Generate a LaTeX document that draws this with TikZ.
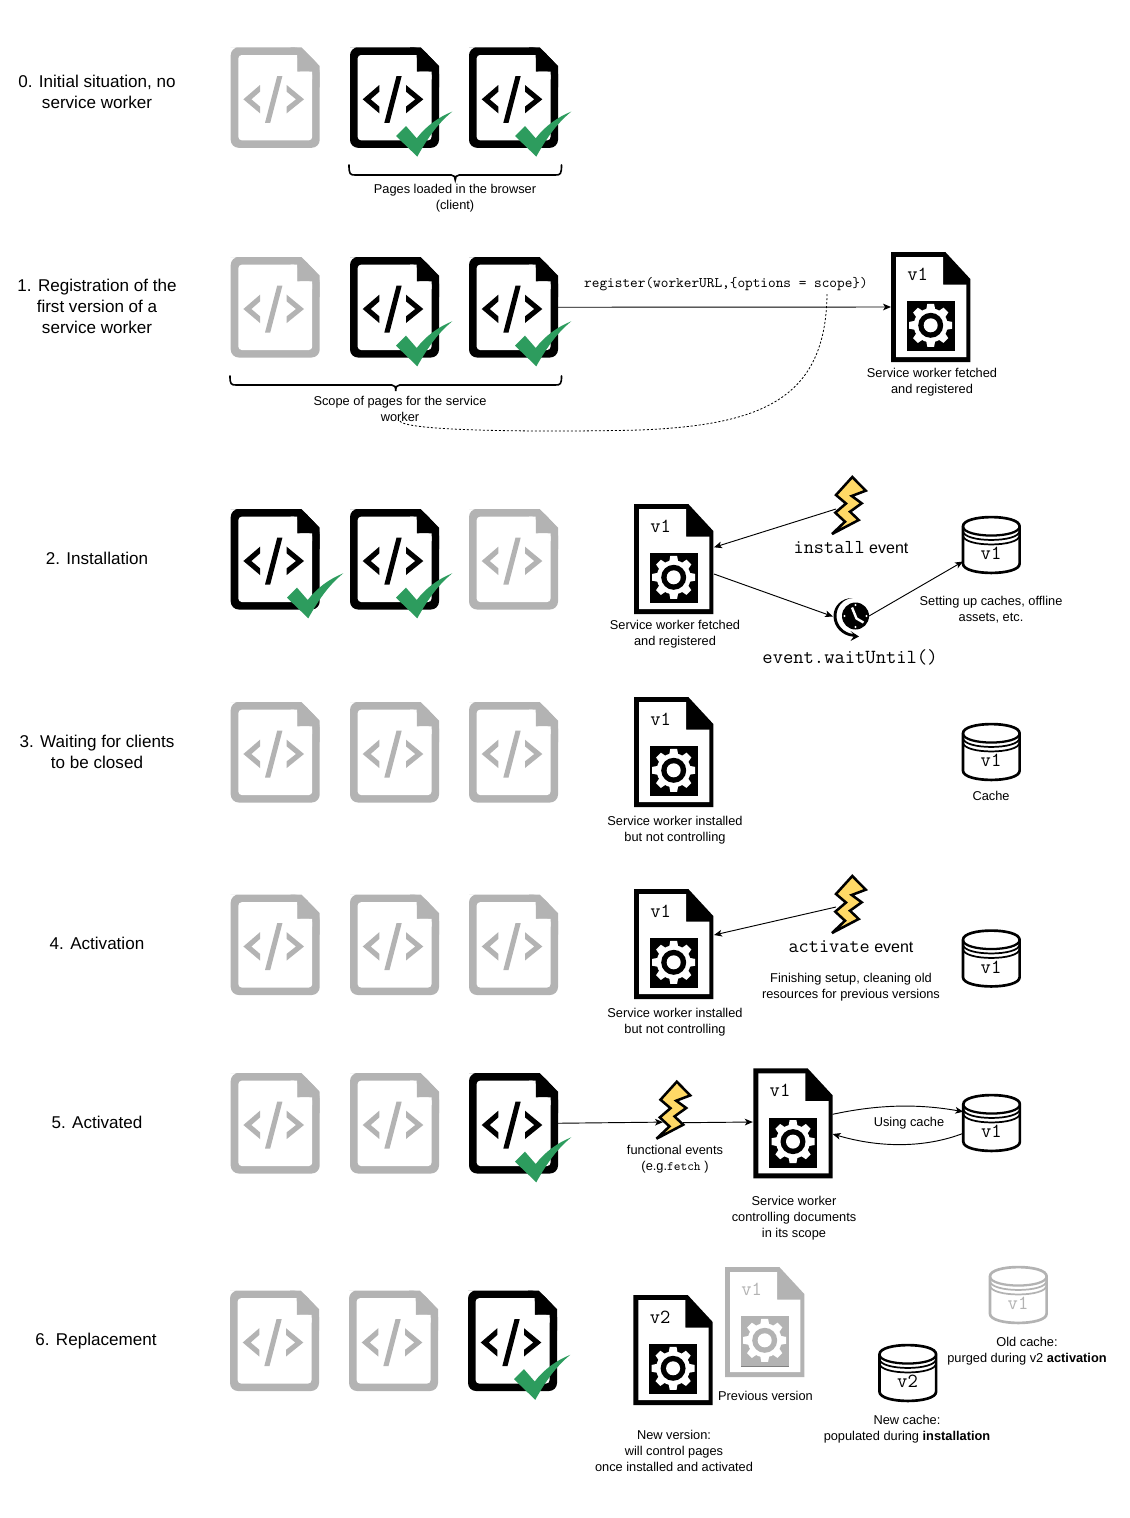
\documentclass[tikz,border=0pt]{standalone}
\usepackage{fontspec}
\setmainfont{Liberation Sans}
\usetikzlibrary{arrows.meta,calc}
\definecolor{gry}{HTML}{B3B3B3}
\definecolor{grn}{HTML}{2D9C5E}
\definecolor{bolty}{HTML}{FFD966}
\tikzset{
  box/.style={inner sep=0pt,outer sep=0pt,draw=none},
  big/.style={inner sep=0pt,align=center,font=\fontsize{12.8}{15.75}\selectfont},
  lab/.style={inner sep=0pt,align=center,yshift=-0.6pt,font=\fontsize{9.6}{12}\selectfont},
  evt/.style={inner sep=0pt,align=center,font=\fontsize{12}{15}\selectfont},
  con/.style={line width=0.7pt,-{Stealth[length=6pt,width=5pt,inset=1.6pt]}},
  brc/.style={line width=1.2pt,line cap=round},
  vtxt/.style={inner sep=0pt,font=\ttfamily\fontsize{15}{15}\selectfont}
}
% page icon: name, x, y, colour
\newcommand{\pageicon}[4]{%
  \node[box,minimum width=89*0.75pt,minimum height=100.5*0.75pt] (#1) at (#2+44.5,#3+50.25) {};
  \begin{scope}[shift={(#2,#3)}]
    \fill[#4,rounded corners=6pt] (8,0) -- (70.7,0) -- (89,18.7) -- (89,100.5) -- (0,100.5) -- (0,0) -- cycle;
    \fill[#4] (60,0) -- (70.7,0) -- (89,18.7) -- (89,40) -- (60,40) -- cycle;
    \fill[white,rounded corners=2.5pt] (7.7,7.7) -- (66.5,7.7) -- (66.5,30) -- (66.5,24.4) -- (81.5,24.4) -- (81.5,93) -- (7.7,93) -- cycle;
    \fill[white] (60,7.7) -- (66.5,7.7) -- (66.5,24.4) -- (81.5,24.4) -- (81.5,32) -- (60,32) -- cycle;
    \fill[#4] (12.7,52) -- (29.3,37.7) -- (29.3,44.4) -- (20.7,52) -- (29.3,59.3) -- (29.3,66) -- cycle;
    \fill[#4] (73.3,52) -- (56,37.7) -- (56,44.4) -- (65.3,52) -- (56,59.3) -- (56,66) -- cycle;
    \fill[#4] (46.5,28.7) -- (51.7,28.7) -- (39.5,75.6) -- (34.3,75.6) -- cycle;
  \end{scope}}
% green check mark
\newcommand{\tickmark}[2]{%
  \fill[grn,shift={(#1,#2)}] (46,88.7) -- (67.3,109.3) .. controls (78,90) and (88,76) .. (102.3,64.3)
    .. controls (88,70) and (76,79) .. (66.7,91) -- (56,78.7) -- cycle;}
% service worker icon: name, x, y, colour, version
\newcommand{\swicon}[5]{%
  \node[box,minimum width=79.3*0.75pt,minimum height=110*0.75pt] (#1) at (#2+39.65,#3+55) {};
  \begin{scope}[shift={(#2,#3)}]
    \fill[#4] (0,0) -- (54.3,0) -- (79.3,27) -- (79.3,110) -- (0,110) -- cycle;
    \fill[white] (5,5) -- (52,5) -- (52,32.7) -- (75.3,32.7) -- (75.3,105) -- (5,105) -- cycle;
    \fill[#4] (16,49.3) rectangle (63.7,99.3);
    \begin{scope}[shift={(39.7,73.3)}]
      \foreach \a in {0,45,...,315}{\fill[white,rotate=\a] (-3.4,-21.5) -- (3.4,-21.5) -- (4.8,-14) -- (-4.8,-14) -- cycle;}
      \fill[white] (0,0) circle[radius=17*0.75pt];
      \fill[#4] (0,0) circle[radius=12.5*0.75pt];
      \fill[white] (0,0) circle[radius=7*0.75pt];
    \end{scope}
  \end{scope}
  \node[vtxt,text=#4] (#1-ver) at (#2+26.7,#3+22.2) {#5};}
% cache cylinder: name, x, y, colour, version
\newcommand{\cacheicon}[5]{%
  \node[box,minimum width=56.6*0.75pt,minimum height=56*0.75pt] (#1) at (#2+28.3,#3+28) {};
  \begin{scope}[shift={(#2,#3)}]
    \draw[#4,line width=2pt,fill=white] (0,9.3) -- (0,46.7) .. controls (0,59) and (56.6,59) .. (56.6,46.7) -- (56.6,9.3)
       .. controls (56.6,-3) and (0,-3) .. (0,9.3) -- cycle;
    \draw[#4,line width=1.7pt] (0,9.3) .. controls (0,21.6) and (56.6,21.6) .. (56.6,9.3);
    \draw[#4,line width=1.3pt] (0,13.8) .. controls (0,26) and (56.6,26) .. (56.6,13.8);
    \draw[#4,line width=1.3pt] (0,18.3) .. controls (0,30.5) and (56.6,30.5) .. (56.6,18.3);
  \end{scope}
  \node[vtxt,text=#4] (#1-ver) at (#2+28,#3+36.7) {#5};}
% lightning bolt
\newcommand{\bolticon}[3]{%
  \node[box,minimum width=37*0.75pt,minimum height=60*0.75pt] (#1) at (#2+18.5,#3+30) {};
  \draw[shift={(#2,#3)},fill=bolty,line width=1.9pt,line join=miter,miter limit=6]
    (22.3,1) -- (6,19) -- (16,27.5) -- (5.3,36.7) -- (15,45.7) -- (2,58)
    -- (28.7,44) -- (20,35.7) -- (31.7,27.3) -- (21.7,20) -- (35.7,14.7) -- cycle;}
% brace: x-left, x-right, y-top, y-bar, y-tip
\newcommand{\bracepath}[5]{%
  \draw[brc] (#1,#3) .. controls (#1,#4-1) and (#1+1,#4) .. (#1+6,#4)
     -- ({(#1+#2)/2-4},#4) .. controls ({(#1+#2)/2-1},#4) and ({(#1+#2)/2},#4+2) .. ({(#1+#2)/2},#5)
     .. controls ({(#1+#2)/2},#4+2) and ({(#1+#2)/2+1},#4) .. ({(#1+#2)/2+4},#4)
     -- (#2-6,#4) .. controls (#2-1,#4) and (#2,#4-1) .. (#2,#3);}
\begin{document}
\begin{tikzpicture}[x=0.75pt,y=-0.75pt]
\useasboundingbox (0,0) rectangle (1130,1518);
\fill[white] (0,0) rectangle (1130,1518);

% row labels
\node[big] (r0) at (97,91.5) {0. Initial situation, no\\service worker};
\node[big] (r1) at (97,306) {1. Registration of the\\first version of a\\service worker};
\node[big] (r2) at (97,558) {2. Installation};
\node[big] (r3) at (97,751.5) {3. Waiting for clients\\to be closed};
\node[big] (r4) at (97,943) {4. Activation};
\node[big] (r5) at (97,1122) {5. Activated};
\node[big] (r6) at (96,1341) {6. Replacement};

% row 0
\pageicon{p01}{230.7}{47.3}{gry}
\pageicon{p02}{350}{47.3}{black}\tickmark{350}{47.3}
\pageicon{p03}{469}{47.3}{black}\tickmark{469}{47.3}
\bracepath{349}{561.5}{165}{175}{180}
\node[lab] (t0) at (455,197) {Pages loaded in the browser\\(client)};

% row 1
\pageicon{p11}{230.7}{257}{gry}
\pageicon{p12}{350}{257}{black}\tickmark{350}{257}
\pageicon{p13}{469}{257}{black}\tickmark{469}{257}
\bracepath{230}{561.5}{376}{385}{391}
\node[lab] (t1) at (400,408) {Scope of pages for the service\\worker};
\swicon{sw1}{891}{252}{black}{v1}
\node[lab] (t1b) at (932,381) {Service worker fetched\\and registered};
\node[inner sep=0pt,font=\ttfamily\fontsize{10.95}{12}\selectfont] (reg) at (726,284.5) {register(workerURL,\{options = scope\})};
\coordinate (scopeword) at (827,294);
\coordinate (workerword) at (400,421);
\draw[con] (p13.east) -- (sw1.west);
\draw[line width=0.6pt,dash pattern=on 1.6pt off 1.4pt] (workerword) .. controls (405,432) and (560,432) .. (640,430)
   .. controls (760,425) and (826,400) .. (scopeword);

% row 2
\pageicon{p21}{230.7}{509}{black}\tickmark{241}{509}
\pageicon{p22}{350}{509}{black}\tickmark{350}{509}
\pageicon{p23}{469}{509}{gry}
\swicon{sw2}{634}{504}{black}{v1}
\node[lab] (t2a) at (675,633) {Service worker fetched\\and registered};
\bolticon{b2}{830}{476}
\node[evt] (t2b) at (851,547.5) {\texttt{\fontsize{14.8}{15}\selectfont install} event};
\node[box,circle,fill=black,minimum size=27*0.75pt] (clk) at (855.5,616) {};
\begin{scope}[shift={(855.5,616)}]
  \fill (-3,-18) .. controls (-14,-18) and (-22,-10) .. (-22,0) .. controls (-22,11) and (-13,20) .. (-2,20.7)
     -- (-5,25) -- (3.5,20.5) -- (-5,15) -- (-2,18) .. controls (-12,17) and (-19,9) .. (-19,0)
     .. controls (-19,-9) and (-13,-17) .. (-3,-18) -- cycle;
  \draw[white,line width=1.8pt] (-3.5,-8.5) -- (1,2.5) -- (8,6.5);
  \foreach \p in {(0,-11),(-11,0),(11,0),(0,11)}{\fill[white] \p circle[radius=0.9pt];}
\end{scope}
\node[inner sep=0pt,font=\ttfamily\fontsize{15}{15}\selectfont] (t2c) at (850,657.5) {event.waitUntil()};
\cacheicon{c2}{963}{517}{black}{v1}
\node[lab] (t2d) at (991,609) {Setting up caches, offline\\assets, etc.};
\draw[con] ($(b2.west)+(6,3)$) -- ($(sw2.east)+(0.7,-11.7)$);
\draw[con] ($(sw2.east)+(0.7,15)$) -- ($(clk.west)+(-9,0.5)$);
\draw[con] ($(clk.east)+(0,0)$) -- ($(c2.south west)+(0,-11.5)$);

% row 3
\pageicon{p31}{230.7}{702}{gry}
\pageicon{p32}{350}{702}{gry}
\pageicon{p33}{469}{702}{gry}
\swicon{sw3}{634}{697}{black}{v1}
\node[lab] (t3a) at (675,829) {Service worker installed\\but not controlling};
\cacheicon{c3}{963}{724}{black}{v1}
\node[lab] (t3b) at (991,795) {Cache};

% row 4
\pageicon{p41}{230.7}{894.5}{gry}
\pageicon{p42}{350}{894.5}{gry}
\pageicon{p43}{469}{894.5}{gry}
\swicon{sw4}{634}{889}{black}{v1}
\node[lab] (t4a) at (675,1021) {Service worker installed\\but not controlling};
\bolticon{b4}{830}{875}
\node[evt] (t4b) at (851,946.5) {\texttt{\fontsize{14.8}{15}\selectfont activate} event};
\node[lab] (t4c) at (851,986) {Finishing setup, cleaning old\\resources for previous versions};
\cacheicon{c4}{963}{930.5}{black}{v1}
\draw[con] ($(b4.west)+(6,2)$) -- ($(sw4.east)+(0.7,-9)$);

% row 5
\pageicon{p51}{230.7}{1073}{gry}
\pageicon{p52}{350}{1073}{gry}
\pageicon{p53}{469}{1073}{black}\tickmark{469}{1073}
\bolticon{b5}{654.5}{1080.7}
\swicon{sw5}{753.3}{1068.3}{black}{v1}
\cacheicon{c5}{963.3}{1095}{black}{v1}
\node[lab] (t5a) at (675,1158.5) {functional events\\(e.g.{\ttfamily fetch} )};
\node[lab] (t5b) at (909,1122) {Using cache};
\node[lab] (t5c) at (794,1217) {Service worker\\controlling documents\\in its scope};
\draw[con] (p53.east) -- ($(b5.west)+(8.5,11.4)$);
\draw[con] ($(b5.east)+(-9,12)$) -- ($(sw5.west)+(-0.5,-1.3)$);
\draw[con] ($(sw5.east)+(0,-9)$) .. controls (880,1104) and (920,1104) .. ($(c5.west)+(0,-11.3)$);
\draw[con] ($(c5.west)+(0,10.3)$) .. controls (925,1148) and (880,1148) .. ($(sw5.east)+(0,10.7)$);

% row 6
\pageicon{p61}{230}{1290.5}{gry}
\pageicon{p62}{349}{1290.5}{gry}
\pageicon{p63}{468}{1290.5}{black}\tickmark{468}{1290.5}
\swicon{sw6}{725}{1267}{gry}{v1}
\draw[gray,line width=0.6pt] (741,1366) -- (788.7,1366);
\swicon{sw7}{633.4}{1295}{black}{v2}
\node[lab] (t6a) at (765.5,1395) {Previous version};
\node[lab] (t6b) at (674,1450) {New version:\\will control pages\\once installed and activated};
\cacheicon{c6}{990}{1267}{gry}{v1}
\cacheicon{c7}{879.5}{1345}{black}{v2}
\node[lab] (t6c) at (1027,1350) {Old cache:\\purged during v2 \textbf{activation}};
\node[lab] (t6d) at (907,1428) {New cache:\\populated during \textbf{installation}};
\end{tikzpicture}
\end{document}
